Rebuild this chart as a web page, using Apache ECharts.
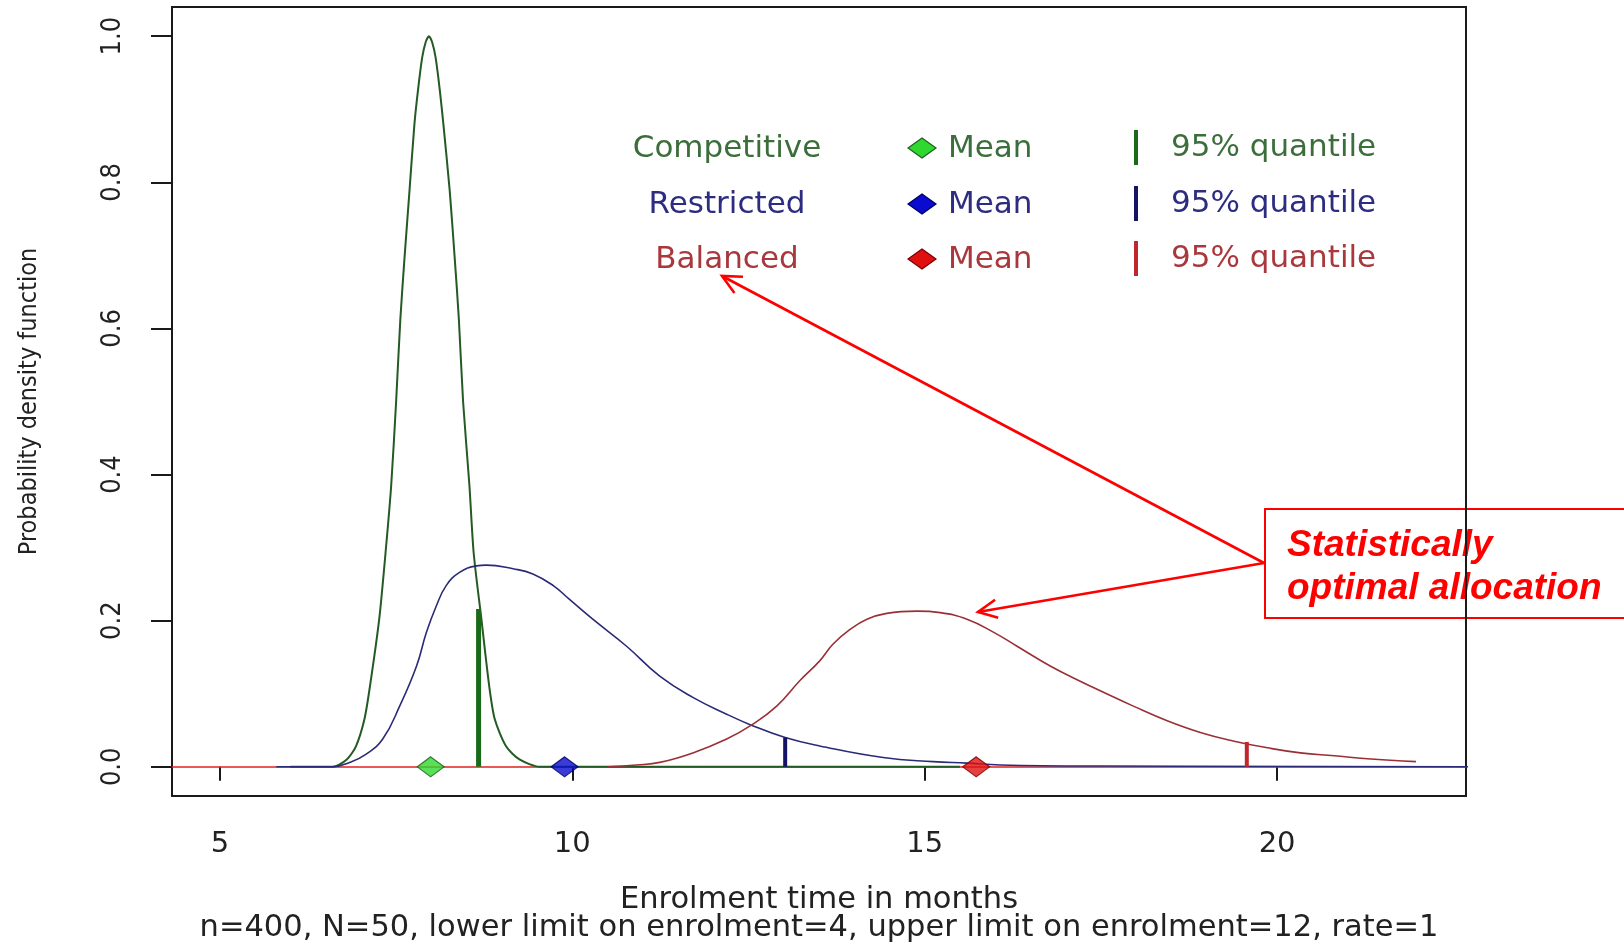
<!DOCTYPE html>
<html>
<head>
<meta charset="utf-8">
<script src="https://cdn.jsdelivr.net/npm/echarts@6/dist/echarts.min.js"></script>
<style>
html,body{margin:0;padding:0;background:#ffffff;}
#chart{width:1624px;height:943px;}
</style>
</head>
<body>
<div id="chart"></div>
<script>
// ---- data ----
const xTickValues = [5, 10, 15, 20];
const yTickValues = [0, 0.2, 0.4, 0.6, 0.8, 1.0];

const competitiveX = [6.0, 6.6, 6.8, 6.93, 7.05, 7.13, 7.26, 7.35, 7.43, 7.50, 7.56, 7.62, 7.69, 7.76, 7.81, 7.87, 7.92, 7.965, 8.01, 8.06, 8.12, 8.17, 8.26, 8.33, 8.39, 8.45, 8.54, 8.60, 8.71, 8.82, 8.90, 9.06, 9.25, 9.54, 12.0, 15.5];
const competitiveY = [0, 0, 0.010, 0.028, 0.065, 0.111, 0.202, 0.293, 0.385, 0.500, 0.613, 0.698, 0.789, 0.880, 0.926, 0.971, 0.992, 1.0, 0.992, 0.971, 0.926, 0.880, 0.789, 0.698, 0.613, 0.500, 0.385, 0.293, 0.202, 0.111, 0.065, 0.028, 0.010, 0, 0, 0];

const restrictedX = [5.8, 6.6, 6.84, 7.07, 7.31, 7.55, 7.79, 7.93, 8.07, 8.21, 8.40, 8.64, 8.78, 9.16, 9.44, 9.73, 9.96, 10.29, 10.77, 11.24, 11.71, 12.19, 12.54, 13.02, 13.51, 14.41, 15.12, 15.60, 16.07, 17.49, 23.0];
const restrictedY = [0, 0, 0.006, 0.017, 0.038, 0.083, 0.138, 0.184, 0.220, 0.248, 0.266, 0.275, 0.276, 0.271, 0.264, 0.248, 0.229, 0.202, 0.165, 0.124, 0.095, 0.072, 0.057, 0.040, 0.0285, 0.0126, 0.007, 0.005, 0.0025, 0.001, 0];

const balancedX = [10.5, 10.91, 11.24, 11.71, 12.19, 12.54, 12.90, 13.23, 13.51, 13.70, 13.94, 14.18, 14.46, 14.89, 15.22, 15.60, 15.98, 16.31, 16.78, 17.25, 17.49, 17.96, 18.44, 18.91, 19.39, 19.86, 20.33, 20.81, 21.28, 21.97];
const balancedY = [0, 0.0025, 0.006, 0.019, 0.038, 0.057, 0.083, 0.118, 0.145, 0.168, 0.188, 0.202, 0.210, 0.213, 0.211, 0.202, 0.184, 0.165, 0.138, 0.115, 0.104, 0.083, 0.063, 0.047, 0.035, 0.026, 0.019, 0.015, 0.011, 0.007];

const groupNames = ['Competitive', 'Restricted', 'Balanced'];
const meanValues = [7.99, 9.89, 15.73];
const quantileValues = [8.67, 13.02, 19.57];
const quantileHeights = [0.216, 0.040, 0.034];

const xAxisTitle = 'Enrolment time in months';
const subTitle = 'n=400, N=50, lower limit on enrolment=4, upper limit on enrolment=12, rate=1';
const yAxisTitle = 'Probability density function';
const noteLines = ['Statistically', 'optimal allocation'];

// ---- styling ----
const curveColors = ['#245a24', '#2a2a78', '#9a3036'];
const quantColors = ['#1a6a1a', '#141466', '#c0262c'];
const quantWidths = [5, 4, 4];
const textColors = ['#3c6e3c', '#2c2c80', '#a8383c'];
const diamondFill = ['#2ed82e', '#0a0ad0', '#e01010'];
const diamondStroke = ['#1f5f1f', '#000060', '#7a0000'];
const narrowFont = '"Liberation Sans Narrow", "DejaVu Sans Condensed", "Liberation Sans", Arial, sans-serif';

const zip = (xs, ys) => xs.map((x, i) => [x, ys[i]]);
const curves = [zip(competitiveX, competitiveY), zip(restrictedX, restrictedY), zip(balancedX, balancedY)];

const series = [];
curves.forEach((d, i) => {
  const s = {
    type: 'line', data: d, showSymbol: false, symbol: 'none',
    smooth: i === 0 ? 0.25 : 0.45, clip: true, z: 3 + i,
    lineStyle: {color: curveColors[i], width: i === 0 ? 2 : 1.6},
    silent: true
  };
  if (i === 2) {
    s.markLine = {
      silent: true, symbol: 'none', label: {show: false},
      lineStyle: {color: '#e02020', width: 1.5, type: 'solid'},
      data: [{yAxis: 0}], z: 1
    };
  }
  series.push(s);
});
quantileValues.forEach((q, i) => {
  series.push({
    type: 'line', data: [[q, 0], [q, quantileHeights[i]]], symbol: 'none', z: 7,
    lineStyle: {color: quantColors[i], width: quantWidths[i]}, silent: true
  });
});
series.push({
  type: 'scatter', symbol: 'diamond', symbolSize: [27, 20], z: 9,
  data: meanValues.map((m, i) => ({
    value: [m, 0],
    itemStyle: {color: diamondFill[i], borderColor: diamondStroke[i], borderWidth: 1.2}
  })),
  silent: true
});

// ---- legend & annotation graphics ----
const rowsY = [149, 205, 260];
const graphics = [];
const legendFont = '31px "DejaVu Sans"';
groupNames.forEach((name, i) => {
  const y = rowsY[i];
  graphics.push({type: 'text', x: 727, y: y, style: {text: name, font: legendFont, fill: textColors[i], align: 'center', verticalAlign: 'middle'}});
  graphics.push({type: 'polygon', shape: {points: [[908, y - 1], [922, y - 11], [936, y - 1], [922, y + 9]]}, style: {fill: diamondFill[i], stroke: diamondStroke[i], lineWidth: 1.2}});
  graphics.push({type: 'text', x: 948, y: y, style: {text: 'Mean', font: legendFont, fill: textColors[i], align: 'left', verticalAlign: 'middle'}});
  graphics.push({type: 'rect', shape: {x: 1134, y: y - 19, width: 4, height: 35}, style: {fill: quantColors[i]}});
  graphics.push({type: 'text', x: 1171, y: y - 1, style: {text: '95% quantile', font: legendFont, fill: textColors[i], align: 'left', verticalAlign: 'middle'}});
});

// annotation box
graphics.push({type: 'rect', z: -1, shape: {x: 1265, y: 509, width: 420, height: 109}, style: {fill: 'none', stroke: '#ff0000', lineWidth: 2}});
noteLines.forEach((t, i) => {
  graphics.push({type: 'text', z: -1, x: 1287, y: 545.5 + i * 43, style: {text: t, font: 'italic bold 37px "Liberation Sans", Arial, sans-serif', fill: '#ff0000', align: 'left', verticalAlign: 'middle'}});
});
// arrows
function arrow(x0, y0, x1, y1) {
  const ang = Math.atan2(y0 - y1, x0 - x1);
  const L = 21, a = 0.45;
  graphics.push({type: 'line', z: -1, shape: {x1: x0, y1: y0, x2: x1, y2: y1}, style: {stroke: '#ff0000', lineWidth: 2.6}});
  graphics.push({type: 'polyline', z: -1, shape: {points: [
    [x1 + L * Math.cos(ang + a), y1 + L * Math.sin(ang + a)], [x1, y1],
    [x1 + L * Math.cos(ang - a), y1 + L * Math.sin(ang - a)]]},
    style: {stroke: '#ff0000', lineWidth: 2.6, fill: 'none'}});
}
arrow(1264, 563, 722, 276);
arrow(1264, 563, 978, 612);

const chart = echarts.init(document.getElementById('chart'), null, {renderer: 'canvas'});
chart.setOption({
  animation: false,
  backgroundColor: '#ffffff',
  grid: {left: 172, top: 7, width: 1294, height: 789, show: true, borderColor: '#1a1a1a', borderWidth: 2, backgroundColor: 'transparent', containLabel: false, outerBoundsMode: 'none'},
  xAxis: {
    type: 'value', min: 4.32, max: 22.68,
    axisLine: {show: false}, splitLine: {show: false},
    axisTick: {show: true, inside: false, length: 14, customValues: xTickValues, lineStyle: {color: '#1a1a1a', width: 2}},
    axisLabel: {show: true, customValues: xTickValues, margin: 34, color: '#222', fontFamily: 'DejaVu Sans', fontSize: 29},
    name: xAxisTitle + '\n' + subTitle, nameLocation: 'middle', nameGap: 90, nameMoveOverlap: false,
    nameTextStyle: {color: '#222', fontFamily: 'DejaVu Sans', fontSize: 30.5, lineHeight: 28, align: 'center'}
  },
  yAxis: {
    type: 'value', min: -0.04, max: 1.04,
    axisLine: {show: false}, splitLine: {show: false},
    axisTick: {show: true, inside: false, length: 21, customValues: yTickValues, lineStyle: {color: '#1a1a1a', width: 2}},
    axisLabel: {show: true, customValues: yTickValues, rotate: 90, margin: 46, color: '#222', fontFamily: narrowFont, fontSize: 27, formatter: v => v.toFixed(1)},
    name: yAxisTitle, nameLocation: 'middle', nameGap: 130, nameRotate: 90, nameMoveOverlap: false,
    nameTextStyle: {color: '#222', fontFamily: narrowFont, fontSize: 25}
  },
  series: series,
  graphic: graphics
});
</script>
</body>
</html>
